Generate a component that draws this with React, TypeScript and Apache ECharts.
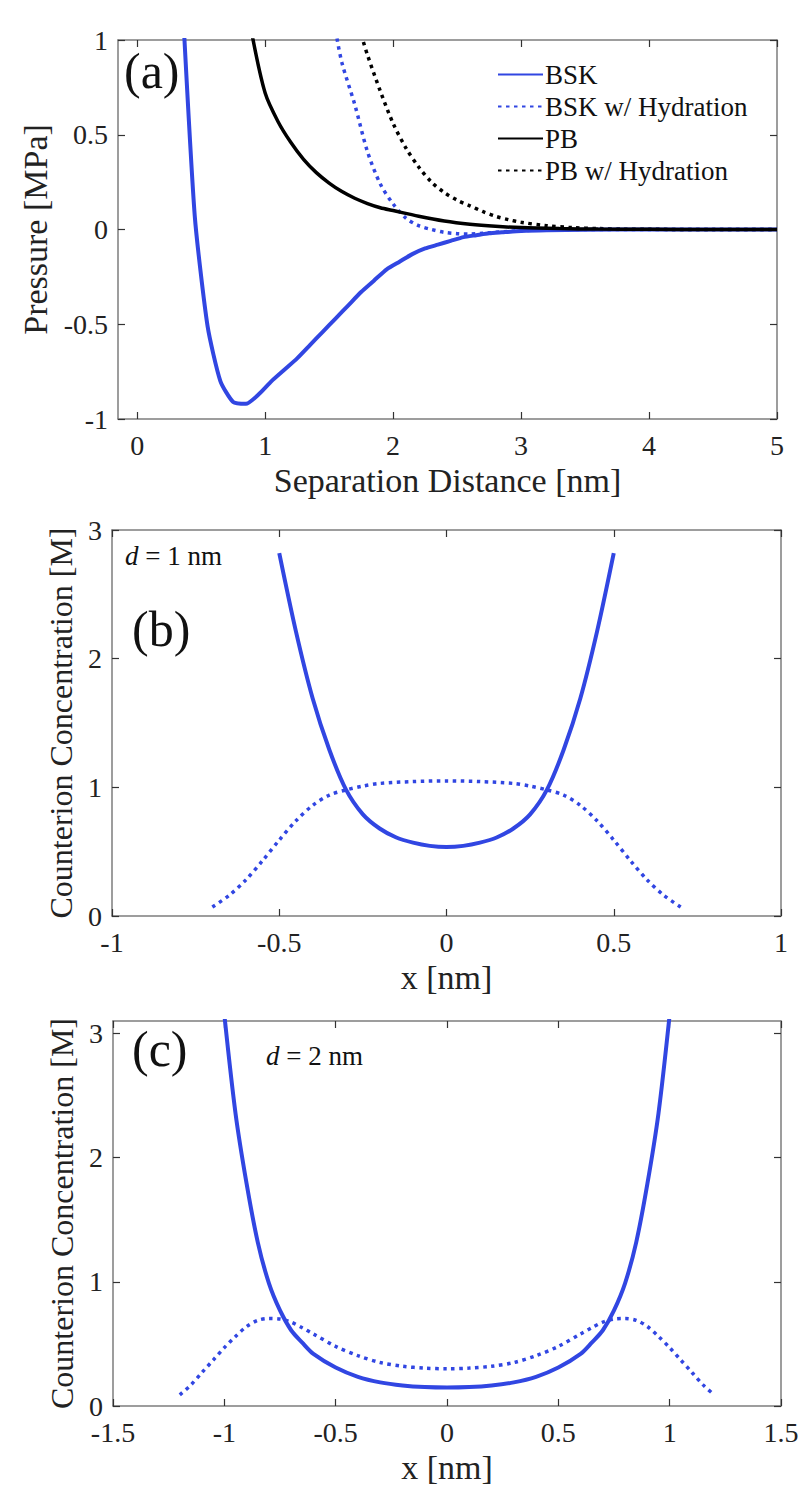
import React, { useEffect, useRef } from "react";
import * as echarts from "echarts";

// ---------- Panel (a): Pressure vs separation distance ----------
const bskX = [0.35, 0.45, 0.55, 0.65, 0.75, 0.85, 0.95, 1.05, 1.15, 1.25, 1.35, 1.45, 1.55, 1.65, 1.75, 1.85, 1.95, 2.05, 2.15, 2.25, 2.35, 2.45, 2.55, 2.65, 2.75, 2.85, 3.0, 3.2, 3.5, 4.0, 4.5, 5.0];
const bskY = [1.25, 0.07, -0.51, -0.8, -0.91, -0.92, -0.87, -0.8, -0.74, -0.68, -0.61, -0.54, -0.47, -0.4, -0.33, -0.27, -0.21, -0.17, -0.13, -0.1, -0.08, -0.06, -0.04, -0.03, -0.02, -0.015, -0.008, -0.004, -0.001, 0, 0, 0];

const bskHydX = [1.55, 1.6, 1.7, 1.8, 1.9, 2.0, 2.1, 2.2, 2.3, 2.4, 2.5, 2.6, 2.7, 2.8, 2.9, 3.0, 3.2, 3.5, 4.0, 4.5, 5.0];
const bskHydY = [1.05, 0.88, 0.66, 0.41, 0.24, 0.135, 0.06, 0.02, 0.0, -0.015, -0.022, -0.024, -0.02, -0.015, -0.01, -0.006, -0.002, 0, 0, 0, 0];

const pbX = [0.9, 1.0, 1.1, 1.2, 1.3, 1.4, 1.5, 1.6, 1.7, 1.8, 1.9, 2.0, 2.2, 2.4, 2.6, 2.8, 3.0, 3.3, 3.6, 4.0, 4.5, 5.0];
const pbY = [1.02, 0.72, 0.57, 0.46, 0.37, 0.3, 0.245, 0.2, 0.165, 0.137, 0.115, 0.1, 0.07, 0.045, 0.028, 0.017, 0.01, 0.005, 0.002, 0.001, 0, 0];

const pbHydX = [1.75, 1.8, 1.9, 2.0, 2.1, 2.2, 2.3, 2.4, 2.5, 2.6, 2.7, 2.8, 2.9, 3.0, 3.2, 3.4, 3.6, 3.8, 4.0, 4.5, 5.0];
const pbHydY = [1.03, 0.92, 0.73, 0.56, 0.43, 0.33, 0.25, 0.195, 0.155, 0.125, 0.095, 0.07, 0.052, 0.038, 0.02, 0.01, 0.005, 0.002, 0.001, 0, 0];

const aXTicks = [0, 1, 2, 3, 4, 5];
const aYTicks = [-1, -0.5, 0, 0.5, 1];

// ---------- Panel (b): d = 1 nm ----------
const b1X = [-0.5, -0.45, -0.4, -0.35, -0.3, -0.25, -0.2, -0.15, -0.1, -0.05, 0, 0.05, 0.1, 0.15, 0.2, 0.25, 0.3, 0.35, 0.4, 0.45, 0.5];
const b1Y = [2.82, 2.21, 1.69, 1.29, 0.98, 0.79, 0.68, 0.61, 0.57, 0.545, 0.536, 0.545, 0.57, 0.61, 0.68, 0.79, 0.98, 1.29, 1.69, 2.21, 2.82];

const b1HydX = [-0.7, -0.65, -0.6, -0.55, -0.5, -0.45, -0.4, -0.35, -0.3, -0.25, -0.2, -0.1, 0, 0.1, 0.2, 0.25, 0.3, 0.35, 0.4, 0.45, 0.5, 0.55, 0.6, 0.65, 0.7];
const b1HydY = [0.07, 0.16, 0.28, 0.43, 0.59, 0.74, 0.86, 0.94, 0.98, 1.01, 1.03, 1.045, 1.05, 1.045, 1.03, 1.01, 0.98, 0.94, 0.86, 0.74, 0.59, 0.43, 0.28, 0.16, 0.07];

// ---------- Panel (c): d = 2 nm ----------
const c2X = [-1.0, -0.95, -0.9, -0.85, -0.8, -0.75, -0.7, -0.65, -0.6, -0.5, -0.4, -0.3, -0.2, -0.1, 0, 0.1, 0.2, 0.3, 0.4, 0.5, 0.6, 0.65, 0.7, 0.75, 0.8, 0.85, 0.9, 0.95, 1.0];
const c2Y = [3.15, 2.36, 1.79, 1.32, 0.99, 0.77, 0.61, 0.51, 0.42, 0.31, 0.235, 0.19, 0.165, 0.152, 0.148, 0.152, 0.165, 0.19, 0.235, 0.31, 0.42, 0.51, 0.61, 0.77, 0.99, 1.32, 1.79, 2.36, 3.15];

const c2HydX = [-1.2, -1.15, -1.1, -1.05, -1.0, -0.95, -0.9, -0.85, -0.8, -0.75, -0.7, -0.65, -0.6, -0.5, -0.4, -0.3, -0.2, -0.1, 0, 0.1, 0.2, 0.3, 0.4, 0.5, 0.6, 0.65, 0.7, 0.75, 0.8, 0.85, 0.9, 0.95, 1.0, 1.05, 1.1, 1.15, 1.2];
const c2HydY = [0.09, 0.17, 0.27, 0.37, 0.47, 0.56, 0.64, 0.69, 0.705, 0.7, 0.675, 0.63, 0.58, 0.48, 0.405, 0.35, 0.32, 0.305, 0.3, 0.305, 0.32, 0.35, 0.405, 0.48, 0.58, 0.63, 0.675, 0.7, 0.705, 0.69, 0.64, 0.56, 0.47, 0.37, 0.27, 0.17, 0.09];

const bcYTicks = [0, 1, 2, 3];
const legendNames = ["BSK", "BSK w/ Hydration", "PB", "PB w/ Hydration"];

const zip = (xs: number[], ys: number[]) => xs.map((x, i) => [x, ys[i]]);

const FONT = "'Liberation Serif', serif";
const BLUE = "#3146e2";
const AXIS_COLOR = "#7d7d7d";
const DOT = [3.5, 4.5];

export default function App() {
  const ref = useRef<HTMLDivElement>(null);

  useEffect(() => {
    if (!ref.current) return;
    const chart = echarts.init(ref.current, undefined, { renderer: "svg" });

    const grids = [
      { left: 118, top: 40, width: 659, height: 379 },
      { left: 112, top: 530, width: 669, height: 386 },
      { left: 113, top: 1021, width: 668, height: 385 },
    ];

    const axisLine = { show: true, onZero: false, lineStyle: { color: AXIS_COLOR, width: 1.5 } };
    const tick = (vals: number[]) => ({
      show: true,
      inside: true,
      length: 7,
      customValues: vals,
      lineStyle: { color: "#333", width: 1.2 },
    });
    const label = (vals: number[], margin: number) => ({
      show: true,
      customValues: vals,
      margin,
      color: "#222",
      fontFamily: FONT,
      fontSize: 28,
    });
    const nameStyle = (size: number) => ({ color: "#222", fontFamily: FONT, fontSize: size });

    const xDefs = [
      { min: -0.15, max: 5, ticks: aXTicks, name: "Separation Distance [nm]" },
      { min: -1, max: 1, ticks: [-1, -0.5, 0, 0.5, 1], name: "x [nm]" },
      { min: -1.5, max: 1.5, ticks: [-1.5, -1, -0.5, 0, 0.5, 1, 1.5], name: "x [nm]" },
    ];
    const yDefs = [
      { min: -1, max: 1, ticks: aYTicks, name: "Pressure [MPa]", gap: 64, size: 34 },
      { min: 0, max: 3, ticks: bcYTicks, name: "Counterion Concentration [M]", gap: 34, size: 32 },
      { min: 0, max: 3.1, ticks: bcYTicks, name: "Counterion Concentration [M]", gap: 34, size: 32 },
    ];

    const xAxis: any[] = [];
    const yAxis: any[] = [];
    xDefs.forEach((d, i) => {
      xAxis.push({
        type: "value",
        gridIndex: i,
        position: "bottom",
        min: d.min,
        max: d.max,
        name: d.name,
        nameLocation: "middle",
        nameGap: 44,
        nameTextStyle: nameStyle(34),
        axisLine,
        axisTick: tick(d.ticks),
        axisLabel: label(d.ticks, 12),
        splitLine: { show: false },
      });
    });
    xDefs.forEach((d, i) => {
      xAxis.push({
        type: "value",
        gridIndex: i,
        position: "top",
        min: d.min,
        max: d.max,
        axisLine,
        axisTick: tick(d.ticks),
        axisLabel: { show: false },
        splitLine: { show: false },
      });
    });
    yDefs.forEach((d, i) => {
      yAxis.push({
        type: "value",
        gridIndex: i,
        position: "left",
        min: d.min,
        max: d.max,
        name: d.name,
        nameLocation: "middle",
        nameGap: d.gap,
        nameTextStyle: nameStyle(d.size),
        axisLine,
        axisTick: tick(d.ticks),
        axisLabel: label(d.ticks, 10),
        splitLine: { show: false },
      });
    });
    yDefs.forEach((d, i) => {
      yAxis.push({
        type: "value",
        gridIndex: i,
        position: "right",
        min: d.min,
        max: d.max,
        axisLine,
        axisTick: tick(d.ticks),
        axisLabel: { show: false },
        splitLine: { show: false },
      });
    });

    const line = (name: string, data: number[][], idx: number, color: string, width: number, dotted: boolean, smooth: number) => ({
      name,
      type: "line",
      xAxisIndex: idx,
      yAxisIndex: idx,
      data,
      symbol: "none",
      smooth,
      clip: true,
      lineStyle: { color, width, type: dotted ? DOT : "solid", cap: "butt" },
      itemStyle: { color },
      z: dotted ? 3 : 4,
    });

    const series = [
      line("BSK", zip(bskX, bskY), 0, BLUE, 4, false, 0.2),
      line("BSK w/ Hydration", zip(bskHydX, bskHydY), 0, BLUE, 3.5, true, 0.3),
      line("PB", zip(pbX, pbY), 0, "#000", 3.5, false, 0.3),
      line("PB w/ Hydration", zip(pbHydX, pbHydY), 0, "#000", 3.5, true, 0.3),
      line("BSK (d = 1 nm)", zip(b1X, b1Y), 1, BLUE, 4, false, 0.3),
      line("BSK w/ Hydration (d = 1 nm)", zip(b1HydX, b1HydY), 1, BLUE, 3.5, true, 0.3),
      line("BSK (d = 2 nm)", zip(c2X, c2Y), 2, BLUE, 4, false, 0.3),
      line("BSK w/ Hydration (d = 2 nm)", zip(c2HydX, c2HydY), 2, BLUE, 3.5, true, 0.3),
    ];

    const panelLabel = (text: string, x: number, y: number) => ({
      type: "text",
      left: x,
      top: y,
      style: { text, fill: "#111", font: `50px ${FONT}` },
    });
    const dLabel = (num: string, x: number, y: number) => ({
      type: "text",
      left: x,
      top: y,
      style: {
        text: `{i|d} = ${num} nm`,
        rich: {
          i: { fontStyle: "italic", fontFamily: FONT, fontSize: 27, fill: "#111" },
        },
        fill: "#111",
        font: `27px ${FONT}`,
      },
    });

    chart.setOption({
      animation: false,
      backgroundColor: "#fff",
      textStyle: { fontFamily: FONT },
      grid: grids,
      xAxis,
      yAxis,
      legend: {
        data: legendNames,
        orient: "vertical",
        left: 492,
        top: 56,
        itemWidth: 45,
        itemHeight: 18,
        itemGap: 5,
        itemStyle: { opacity: 0 },
        textStyle: { color: "#111", fontFamily: FONT, fontSize: 27, padding: [0, 0, 0, -3] },
        selectedMode: false,
      },
      series,
      graphic: [
        panelLabel("(a)", 124, 46),
        panelLabel("(b)", 132, 604),
        panelLabel("(c)", 132, 1024),
        dLabel("1", 125, 542),
        dLabel("2", 266, 1042),
      ],
    });

    return () => chart.dispose();
  }, []);

  return (
    <div
      ref={ref}
      style={{ position: "absolute", left: 0, top: 0, width: 810, height: 1500, background: "#fff" }}
    />
  );
}
